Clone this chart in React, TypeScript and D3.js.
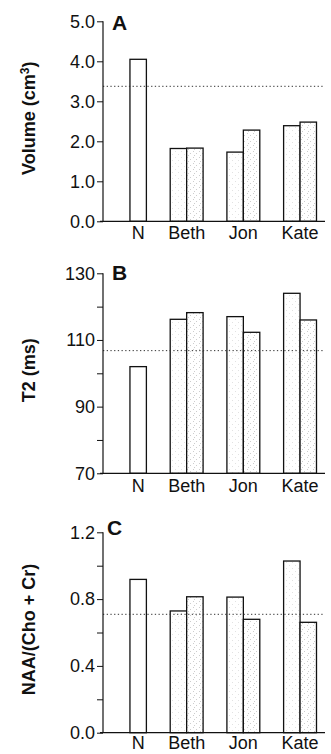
import { useEffect, useRef } from 'react';
import * as d3 from 'd3';

// ==========================================
// DATA
// ==========================================
const categories = ['N', 'Beth', 'Jon', 'Kate'];

// first bar of each pair (N has only one bar)
const volumeFirst = [4.05, 1.82, 1.73, 2.39];
const volumeSecond = [null, 1.83, 2.28, 2.48];
const volumeRef = 3.375;
const volumeTicks = [0, 1, 2, 3, 4, 5];
const volumeLabels = [0, 1, 2, 3, 4, 5];

const t2First = [102, 116.2, 117, 124];
const t2Second = [null, 118.2, 112.3, 116];
const t2Ref = 106.8;
const t2Ticks = [70, 80, 90, 100, 110, 120, 130];
const t2Labels = [70, 90, 110, 130];

const naaFirst = [0.918, 0.729, 0.812, 1.028];
const naaSecond = [null, 0.814, 0.679, 0.661];
const naaRef = 0.709;
const naaTicks = [0, 0.2, 0.4, 0.6, 0.8, 1.0, 1.2];
const naaLabels = [0, 0.4, 0.8, 1.2];

const panels = [
    {
        letter: 'A', title: 'Volume (cm', sup: '3', titleEnd: ')',
        first: volumeFirst, second: volumeSecond, ref: volumeRef,
        domain: [0, 5], ticks: volumeTicks, labels: volumeLabels, fmt: '.1f',
        top: 21.3, bottom: 221.3, lx: 112, ly: 30, catGap: 18,
    },
    {
        letter: 'B', title: 'T2 (ms)', sup: '', titleEnd: '',
        first: t2First, second: t2Second, ref: t2Ref,
        domain: [70, 130], ticks: t2Ticks, labels: t2Labels, fmt: 'd',
        top: 273.3, bottom: 473.3, lx: 112, ly: 280, catGap: 19,
    },
    {
        letter: 'C', title: 'NAA/(Cho + Cr)', sup: '', titleEnd: '',
        first: naaFirst, second: naaSecond, ref: naaRef,
        domain: [0, 1.2], ticks: naaTicks, labels: naaLabels, fmt: '.1f',
        top: 532.3, bottom: 732.7, lx: 107, ly: 535, catGap: 16,
    },
];

const App = () => {
    const svgRef = useRef(null);

    useEffect(() => {
        const width = 331;
        const height = 754;
        const axisX = 103;
        const axisEnd = 325;
        const font = '"Liberation Sans", Arial, Helvetica, sans-serif';

        const svg = d3.select(svgRef.current);
        svg.selectAll('*').remove();
        svg.attr('width', width).attr('height', height);

        // stipple patterns
        const defs = svg.append('defs');
        const addPattern = (id, dots, color) => {
            const p = defs.append('pattern')
                .attr('id', id)
                .attr('patternUnits', 'userSpaceOnUse')
                .attr('width', 6)
                .attr('height', 6);
            p.append('rect').attr('width', 6).attr('height', 6).attr('fill', '#fff');
            dots.forEach(([x, y]) => {
                p.append('rect')
                    .attr('x', x).attr('y', y)
                    .attr('width', 1).attr('height', 1)
                    .attr('fill', color);
            });
        };
        addPattern('stipLight', [[1, 1], [4, 4]], '#e2e2e2');
        addPattern('stipDark', [[1, 1], [4, 3], [2, 5]], '#cdcdcd');

        // ==========================================
        // X SCALES
        // ==========================================
        const x = d3.scaleBand()
            .domain(categories)
            .range([105, axisEnd])
            .paddingInner(0.42)
            .paddingOuter(0.15);

        const inner = d3.scaleBand()
            .domain(['first', 'second'])
            .range([0, x.bandwidth()]);

        panels.forEach((p) => {
            const y = d3.scaleLinear()
                .domain(p.domain)
                .range([p.bottom, p.top]);

            const g = svg.append('g');

            // bars
            categories.forEach((c, i) => {
                const v1 = p.first[i];
                const v2 = p.second[i];
                const bars = v2 == null
                    ? [{ slot: 'second', v: v1, fill: '#fff' }]
                    : [
                        { slot: 'first', v: v1, fill: 'url(#stipLight)' },
                        { slot: 'second', v: v2, fill: 'url(#stipDark)' },
                    ];
                bars.forEach((b) => {
                    g.append('rect')
                        .attr('x', x(c) + inner(b.slot))
                        .attr('y', y(b.v))
                        .attr('width', inner.bandwidth())
                        .attr('height', y(p.domain[0]) - y(b.v))
                        .attr('fill', b.fill)
                        .attr('stroke', '#111')
                        .attr('stroke-width', 1.3);
                });

                const cx = v2 == null
                    ? x(c) + inner('second') + inner.bandwidth() / 2
                    : x(c) + x.bandwidth() / 2;
                g.append('text')
                    .attr('x', cx)
                    .attr('y', p.bottom + p.catGap)
                    .attr('text-anchor', 'middle')
                    .style('font-family', font)
                    .style('font-size', '18px')
                    .style('fill', '#111')
                    .text(c);
            });

            // reference (dotted) line
            g.append('line')
                .attr('x1', axisX)
                .attr('x2', axisEnd)
                .attr('y1', y(p.ref))
                .attr('y2', y(p.ref))
                .attr('stroke', '#333')
                .attr('stroke-width', 1)
                .attr('stroke-dasharray', '1.3,2.4');

            // y axis
            const fmt = d3.format(p.fmt);
            const yAxis = d3.axisLeft(y)
                .tickValues(p.ticks)
                .tickSize(6)
                .tickPadding(2)
                .tickFormat(d => (p.labels.includes(d) ? fmt(d) : ''));

            const ax = g.append('g')
                .attr('transform', `translate(${axisX},0)`)
                .call(yAxis);
            ax.select('.domain').remove();
            ax.selectAll('line').attr('stroke', '#111').attr('stroke-width', 1);
            ax.selectAll('text')
                .style('font-family', font)
                .style('font-size', '18px')
                .style('fill', '#111');

            g.append('line')
                .attr('x1', axisX).attr('x2', axisX)
                .attr('y1', p.top).attr('y2', p.bottom)
                .attr('stroke', '#111').attr('stroke-width', 1.2);

            // x axis baseline
            g.append('line')
                .attr('x1', axisX - 3).attr('x2', axisEnd)
                .attr('y1', p.bottom).attr('y2', p.bottom)
                .attr('stroke', '#111').attr('stroke-width', 1.2);

            // panel letter
            g.append('text')
                .attr('x', p.lx)
                .attr('y', p.ly)
                .style('font-family', font)
                .style('font-size', '21px')
                .style('font-weight', 'bold')
                .style('fill', '#111')
                .text(p.letter);

            // y title
            const cy = (p.top + p.bottom) / 2 - 3;
            const t = g.append('text')
                .attr('transform', `translate(35,${cy}) rotate(-90)`)
                .attr('text-anchor', 'middle')
                .style('font-family', font)
                .style('font-size', '18px')
                .style('font-weight', 'bold')
                .style('fill', '#111');
            t.append('tspan').text(p.title);
            if (p.sup) {
                t.append('tspan')
                    .attr('dy', -6)
                    .style('font-size', '12px')
                    .text(p.sup);
                t.append('tspan')
                    .attr('dy', 6)
                    .text(p.titleEnd);
            }
        });
    }, []);

    return (
        <svg
            ref={svgRef}
            style={{ position: 'absolute', left: 0, top: 0, background: '#fff' }}
        />
    );
};

export default App;
